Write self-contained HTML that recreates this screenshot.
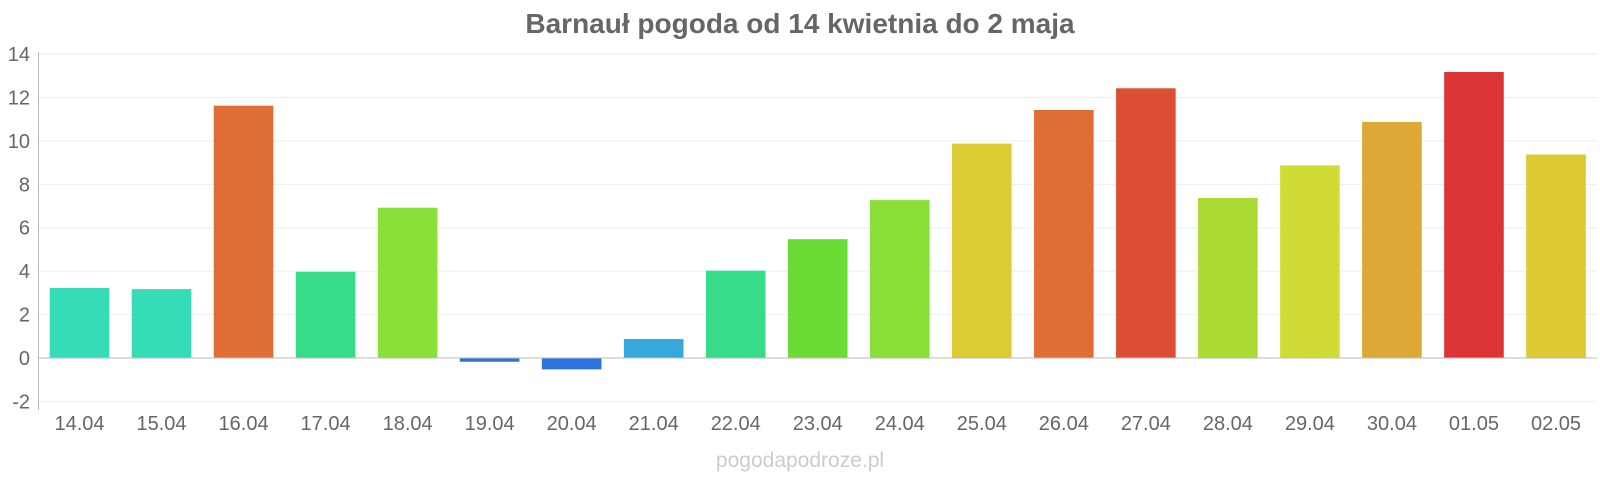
<!DOCTYPE html>
<html><head><meta charset="utf-8"><style>
body{margin:0;background:#fff;width:1600px;height:480px;overflow:hidden}
svg text{font-family:"Liberation Sans",sans-serif}
</style></head><body>
<svg width="1600" height="480" xmlns="http://www.w3.org/2000/svg">
<text x="800" y="33" text-anchor="middle" font-size="28" font-weight="bold" fill="#666">Barnauł pogoda od 14 kwietnia do 2 maja</text>
<g id="grid" stroke="#eee" stroke-width="1"></g>
<g id="bars"></g>
<g id="labels" fill="#666" font-size="20"></g>
<line x1="38.5" y1="52" x2="38.5" y2="410" stroke="#bbb"/>
<text x="800" y="467" text-anchor="middle" font-size="21" fill="#ccc">pogodapodroze.pl</text>
</svg>
<script>
const ns="http://www.w3.org/2000/svg";
const z=358,s=21.71,L=38.5,R=1597;
const g=document.getElementById('grid'),b=document.getElementById('bars'),l=document.getElementById('labels');
function el(t,a,p,txt){const e=document.createElementNS(ns,t);for(const k in a)e.setAttribute(k,a[k]);if(txt!==undefined)e.textContent=txt;p.appendChild(e);return e;}
for(let v=-2;v<=14;v+=2){const y=z-v*s;
 if(v!==0)el('line',{x1:L,x2:R,y1:y,y2:y},g);
 el('text',{x:30,y:y+7,'text-anchor':'end'},l,v);}
el('line',{x1:L,x2:R,y1:z,y2:z,stroke:'#bbb'},document.querySelector('svg'));
const d=[["14.04",3.2,"#36dcb8"],["15.04",3.15,"#36dcb8"],["16.04",11.6,"#de6e34"],["17.04",3.95,"#36dc88"],["18.04",6.9,"#8adf38"],["19.04",-0.15,"#2e74d8"],["20.04",-0.5,"#2e74e0"],["21.04",0.85,"#35a8dc"],["22.04",4.0,"#36dc88"],["23.04",5.45,"#6adc35"],["24.04",7.25,"#8adf38"],["25.04",9.85,"#dccb33"],["26.04",11.4,"#de6e34"],["27.04",12.4,"#dd4f35"],["28.04",7.35,"#acdc33"],["29.04",8.85,"#d0dc35"],["30.04",10.85,"#dda835"],["01.05",13.15,"#dc3535"],["02.05",9.35,"#dcc933"]];
const w=(R-L)/19;
d.forEach((r,i)=>{const cx=L+w*(i+0.5);const y1=z-r[1]*s;
 el('rect',{x:cx-29.3,y:Math.min(y1,z),width:58.6,height:Math.abs(r[1]*s),fill:r[2],stroke:r[2],'stroke-width':1},b);
 el('text',{x:cx,y:430,'text-anchor':'middle'},l,r[0]);});
</script>
</body></html>
